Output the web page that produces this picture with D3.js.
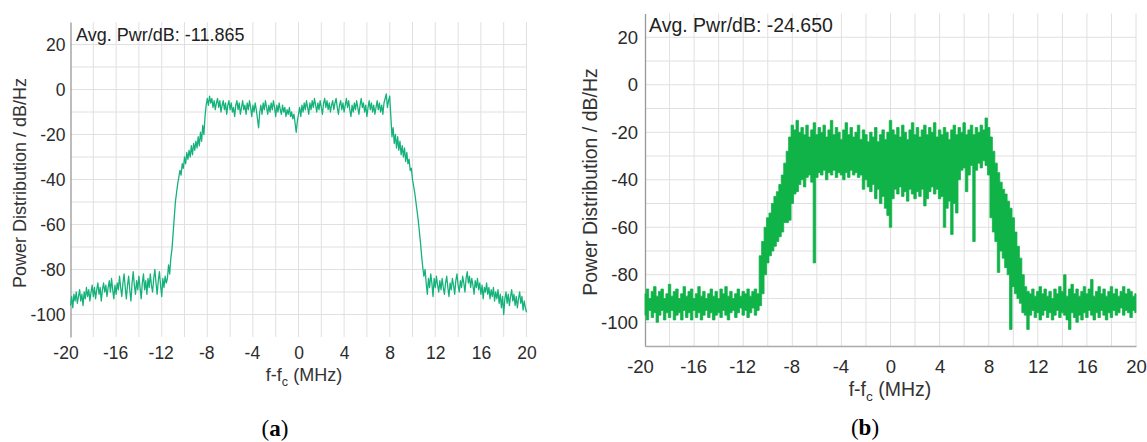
<!DOCTYPE html>
<html><head><meta charset="utf-8">
<script src="https://cdn.jsdelivr.net/npm/d3@7"></script>
<style>
body{margin:0;background:#fff}
svg text{font-family:"Liberation Sans",Arial,sans-serif}
</style>
</head><body>
<svg id="chart" width="1147" height="442"></svg>
<script>
// ---------- data ----------
const xTickValues = [-20,-16,-12,-8,-4,0,4,8,12,16,20];
const yTickValues = [20,0,-20,-40,-60,-80,-100];
const freqStart = -20;
const leftStep = 0.1;   // MHz between samples of panel (a)
const rightStep = 0.2;  // MHz between samples of panel (b)
const avgLabels = ["Avg. Pwr/dB: -11.865", "Avg. Pwr/dB: -24.650"];
const captions = ["a", "b"];

// panel (a): power spectrum, one value per 0.1 MHz from -20 to 20 MHz
const leftPower = [
 // -20.0 .. -11.6
 -96,-92,-97,-91,-94,-90,-95,-92,-89,-94,
 -91,-96,-90,-93,-88,-92,-89,-94,-90,-87,
 -92,-88,-93,-89,-86,-91,-88,-94,-89,-86,
 -90,-87,-92,-88,-85,-90,-84,-89,-93,-87,
 -91,-86,-89,-83,-88,-92,-86,-82,-88,-93,
 -87,-83,-89,-94,-86,-81,-87,-91,-85,-89,
 -83,-88,-93,-86,-82,-89,-85,-91,-84,-88,
 -82,-87,-90,-84,-80,-86,-91,-85,-81,-87,
 -92,-84,-88,-83,-86,
 // -11.5 .. -8.1
 -84,-78,-82,-75,-71,-64,-57,-50,-46,-42,
 -39,-36,-38,-33,-35,-30,-33,-28,-31,-27,
 -30,-25,-29,-24,-27,-23,-26,-21,-25,-19,
 -23,-16,-20,-12,-7,
 // -8.0 .. 7.9
 -4,-7,-3,-6,-4,-8,-5,-9,-6,-4,
 -8,-5,-10,-7,-5,-9,-6,-11,-7,-5,
 -9,-6,-10,-8,-12,-7,-5,-9,-6,-11,
 -8,-5,-9,-7,-11,-6,-9,-5,-8,-12,
 -7,-10,-6,-9,-13,-17,-10,-7,-11,-6,
 -9,-5,-8,-11,-7,-10,-6,-9,-5,-8,
 -12,-7,-10,-6,-9,-11,-7,-10,-8,-12,
 -9,-11,-8,-12,-10,-13,-11,-15,-19,-14,
 -11,-8,-12,-7,-10,-6,-9,-5,-8,-11,
 -6,-9,-5,-8,-4,-7,-10,-6,-9,-5,
 -8,-11,-6,-4,-8,-5,-9,-6,-10,-7,
 -5,-9,-6,-4,-8,-11,-7,-5,-9,-6,
 -10,-7,-4,-8,-5,-9,-12,-7,-10,-6,
 -9,-5,-8,-11,-7,-4,-8,-6,-10,-7,
 -12,-8,-5,-9,-6,-10,-7,-11,-8,-5,
 -9,-6,-10,-7,-11,-6,-4,-2,-8,-5,
 // 8.0 .. 11.4
 -3,-12,-21,-17,-24,-20,-26,-21,-27,-23,
 -29,-25,-30,-26,-32,-28,-33,-31,-36,-35,
 -40,-43,-46,-50,-54,-58,-63,-68,-74,-79,
 -83,-80,-86,-91,-84,
 // 11.5 .. 20.0
 -88,-82,-86,-92,-84,-88,-83,-87,-90,-85,
 -89,-84,-88,-91,-86,-83,-88,-92,-86,-89,
 -84,-87,-91,-85,-82,-87,-90,-85,-88,-83,
 -86,-90,-84,-81,-86,-83,-88,-84,-87,-91,
 -85,-88,-84,-89,-86,-91,-87,-93,-88,-90,
 -86,-91,-88,-93,-89,-92,-88,-94,-90,-93,
 -89,-95,-91,-97,-92,-100,-93,-90,-95,-91,
 -96,-92,-89,-94,-91,-96,-92,-97,-93,-90,
 -95,-92,-98,-94,-97,-99
];

// panel (b): upper and lower envelope of the dense trace, one pair per 0.2 MHz
const rightHigh = [
 // -20.0 .. -10.8
 -88,-86,-90,-87,-85,-89,-87,-86,-90,-88,
 -84,-89,-87,-86,-90,-88,-85,-89,-87,-86,
 -90,-88,-85,-89,-87,-90,-88,-86,-89,-87,
 -90,-86,-88,-85,-89,-87,-90,-88,-86,-89,
 -87,-88,-86,-89,-87,-86,-88,
 // -10.6 .. -7.8
 -72,-66,-60,-56,-54,-50,-47,-45,-42,-38,-33,-28,-22,-17,-19,
 // -7.6 .. 8.0
 -15,-20,-18,-21,-17,-22,-19,-16,-21,-18,
 -20,-17,-22,-19,-15,-21,-18,-20,-23,-19,
 -16,-21,-18,-22,-20,-17,-23,-19,-21,-24,
 -20,-22,-18,-24,-21,-19,-23,-20,-15,-19,
 -21,-18,-22,-17,-20,-23,-19,-16,-21,-18,
 -22,-19,-17,-21,-18,-20,-16,-22,-19,-21,
 -18,-20,-23,-19,-17,-21,-18,-20,-16,-21,
 -19,-17,-21,-18,-20,-17,-19,-14,-18,
 // 8.2 .. 11.2
 -22,-28,-33,-37,-41,-44,-46,-49,-52,-56,-62,-68,-73,-80,-85,-87,
 // 11.4 .. 20.0
 -88,-86,-89,-87,-85,-88,-86,-89,-87,-90,
 -86,-88,-85,-87,-80,-89,-86,-84,-88,-86,
 -89,-87,-85,-88,-86,-82,-89,-87,-85,-88,
 -86,-89,-87,-85,-88,-86,-89,-87,-85,-88,
 -86,-87,-89,-88
];
const rightLow = [
 // -20.0 .. -10.8
 -97,-99,-95,-98,-96,-100,-97,-95,-99,-96,
 -98,-95,-99,-97,-96,-99,-95,-98,-96,-99,
 -95,-98,-96,-99,-97,-95,-98,-96,-99,-97,
 -96,-98,-95,-97,-99,-96,-95,-98,-96,-94,
 -97,-95,-98,-96,-94,-97,-95,
 // -10.6 .. -7.8
 -93,-88,-80,-75,-72,-70,-68,-66,-64,-62,-58,-58,-57,-50,-46,
 // -7.6 .. 8.0
 -45,-42,-40,-43,-39,-38,-41,-75,-39,-37,
 -38,-36,-40,-37,-38,-36,-39,-37,-38,-40,
 -37,-39,-36,-38,-37,-39,-38,-44,-40,-43,
 -45,-42,-48,-44,-50,-47,-52,-55,-60,-48,
 -44,-46,-43,-47,-45,-49,-44,-46,-48,-45,
 -47,-44,-51,-48,-45,-43,-46,-44,-48,-47,
 -60,-52,-49,-63,-50,-54,-40,-36,-35,-45,
 -38,-34,-66,-36,-33,-35,-32,-34,-38,
 // 8.2 .. 11.2
 -56,-62,-66,-79,-70,-73,-77,-80,-103,-85,-88,-90,-92,-96,-97,-103,
 // 11.4 .. 20.0
 -97,-95,-98,-96,-99,-97,-95,-98,-96,-99,
 -97,-95,-98,-96,-97,-99,-103,-96,-98,-100,
 -97,-99,-96,-98,-95,-97,-99,-96,-98,-95,
 -97,-99,-96,-98,-95,-97,-96,-94,-97,-95,
 -96,-98,-95,-96
];

// ---------- layout ----------
const svg = d3.select("#chart");
const panels = [
  {x0:70.5, x1:526.5, yTop:22, yBot:337, font:17.5, avgFont:18, titleFont:18,
   xPad:10, yPad:5, avgX:76, avgY:41, titleX:20, titleY:183,
   xTitleX:304, xTitleY:381, capX:275, capY:436, xAxisLine:false, color:"#14b27a"},
  {x0:645, x1:1136, yTop:13.5, yBot:346, font:18.5, avgFont:19.5, titleFont:19.5,
   xPad:14, yPad:7, avgX:649, avgY:32, titleX:590, titleY:182,
   xTitleX:890, xTitleY:396, capX:865, capY:435, xAxisLine:true, color:"#0fb347"}
];
const plainNumber = d => String(d);   // hyphen-minus, as in the original

panels.forEach((p, k) => {
  const x = d3.scaleLinear().domain([-20, 20]).range([p.x0, p.x1]);
  const y = d3.scaleLinear().domain([-110, 30]).range([p.yBot, p.yTop]);
  const g = svg.append("g");

  // grid
  g.append("g").selectAll("line").data(d3.range(-18, 21, 2)).join("line")
    .attr("x1", d => x(d)).attr("x2", d => x(d))
    .attr("y1", p.yTop).attr("y2", p.yBot)
    .attr("stroke", "#e0e0e0").attr("stroke-width", 1);
  g.append("g").selectAll("line").data(d3.range(-100, 21, 10)).join("line")
    .attr("x1", p.x0).attr("x2", p.x1)
    .attr("y1", d => y(d)).attr("y2", d => y(d))
    .attr("stroke", "#e0e0e0").attr("stroke-width", 1);

  // axes (labels only, no tick marks)
  const xa = g.append("g").attr("transform", `translate(0,${p.yBot})`)
    .call(d3.axisBottom(x).tickValues(xTickValues).tickSize(0).tickPadding(p.xPad).tickFormat(plainNumber));
  xa.select(".domain").attr("stroke", p.xAxisLine ? "#aaa" : "none").attr("stroke-width", 1.5);
  xa.selectAll("text").attr("font-size", p.font).attr("fill", "#2b2b2b")
    .attr("font-family", "Liberation Sans, Arial, sans-serif")
    .attr("dx", d => d === -20 ? -5 : (d < 0 ? -1 : 0));

  const ya = g.append("g").attr("transform", `translate(${p.x0},0)`)
    .call(d3.axisLeft(y).tickValues(yTickValues).tickSize(0).tickPadding(p.yPad).tickFormat(plainNumber));
  ya.select(".domain").attr("stroke", "#999").attr("stroke-width", 1.3);
  ya.selectAll("text").attr("font-size", p.font).attr("fill", "#2b2b2b")
    .attr("font-family", "Liberation Sans, Arial, sans-serif");

  // data
  if (k === 0) {
    const line = d3.line().x((d, i) => x(freqStart + i * leftStep)).y(d => y(d));
    g.append("path").datum(leftPower).attr("d", line)
      .attr("fill", "none").attr("stroke", p.color).attr("stroke-width", 1.3)
      .attr("stroke-linejoin", "round");
  } else {
    const pairs = rightHigh.map((h, i) => ({f: freqStart + i * rightStep, hi: h, lo: rightLow[i]}));
    const area = d3.area().curve(d3.curveStep).x(d => x(d.f)).y0(d => y(d.lo)).y1(d => y(d.hi));
    g.append("path").datum(pairs).attr("d", area)
      .attr("fill", p.color).attr("stroke", p.color).attr("stroke-width", 0.8);
  }

  // texts
  g.append("text").attr("x", p.avgX).attr("y", p.avgY)
    .attr("font-size", p.avgFont).attr("fill", "#222").text(avgLabels[k]);

  g.append("text").attr("transform", `translate(${p.titleX},${p.titleY}) rotate(-90)`)
    .attr("text-anchor", "middle").attr("dy", "0.35em")
    .attr("font-size", p.titleFont).attr("fill", "#333")
    .text("Power Distribution / dB/Hz");

  const xt = g.append("text").attr("x", p.xTitleX).attr("y", p.xTitleY)
    .attr("text-anchor", "middle").attr("font-size", p.titleFont).attr("fill", "#333");
  xt.append("tspan").text("f-f");
  xt.append("tspan").attr("font-size", p.titleFont * 0.7).attr("dy", 5).text("c");
  xt.append("tspan").attr("dy", -5).text(" (MHz)");

  const cap = svg.append("text").attr("x", p.capX).attr("y", p.capY)
    .attr("text-anchor", "middle").attr("font-size", 23).attr("fill", "#000")
    .style("font-family", "'Liberation Serif', 'DejaVu Serif', serif");
  cap.append("tspan").text("(");
  cap.append("tspan").attr("font-weight", "bold").text(captions[k]);
  cap.append("tspan").text(")");
});
</script>
</body></html>
